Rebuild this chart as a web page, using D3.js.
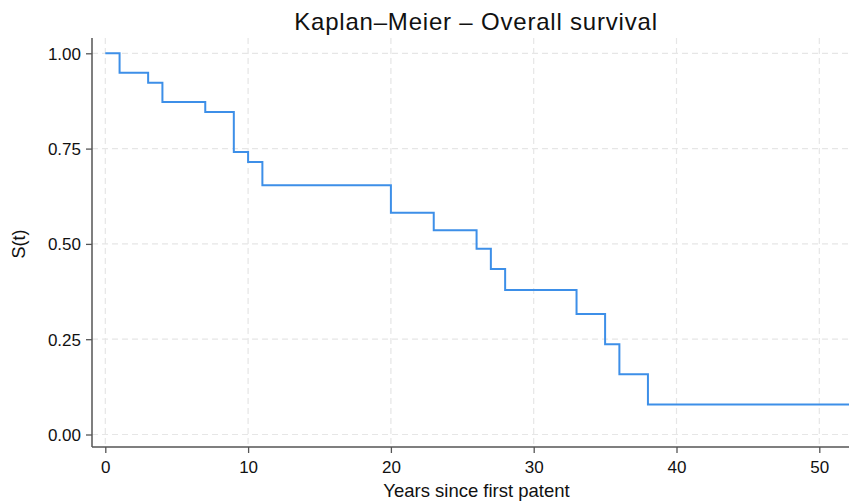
<!DOCTYPE html>
<html>
<head>
<meta charset="utf-8">
<script src="https://cdn.jsdelivr.net/npm/d3@7"></script>
<style>
  html, body { margin: 0; padding: 0; background: #fff; }
  svg { display: block; font-family: "Liberation Sans", Arial, Helvetica, sans-serif; }
</style>
</head>
<body>
<svg id="chart" width="849" height="503"></svg>
<script>
// Kaplan–Meier step data (time in years, survival probability)
const times    = [0, 1, 3, 4, 7, 9, 10, 11, 20, 23, 26, 27, 28, 33, 35, 36, 38, 52.1];
const survival = [1.00, 0.949, 0.923, 0.872, 0.846, 0.741, 0.715, 0.654, 0.582, 0.536, 0.487, 0.434, 0.379, 0.316, 0.237, 0.158, 0.079, 0.079];
const xTicks = [0, 10, 20, 30, 40, 50];
const yTicks = [0, 0.25, 0.5, 0.75, 1.0];
const titleText = "Kaplan–Meier – Overall survival";
const xLabel = "Years since first patent";
const yLabel = "S(t)";

const svg = d3.select("#chart");
const plot = { left: 92, right: 849, top: 38, bottom: 447 };

const x = d3.scaleLinear().domain([0, 50]).range([105.3, 819.3]);
const y = d3.scaleLinear().domain([0, 1]).range([434.5, 53.3]);

svg.append("defs").append("clipPath").attr("id", "clip")
  .append("rect")
  .attr("x", plot.left).attr("y", plot.top)
  .attr("width", plot.right - plot.left).attr("height", plot.bottom - plot.top);

// Grid
const grid = svg.append("g").attr("stroke", "#e6e6e6").attr("stroke-width", 1.2)
  .attr("stroke-dasharray", "6,4");
grid.selectAll("line.h").data(yTicks).join("line").attr("class", "h")
  .attr("x1", plot.left).attr("x2", plot.right)
  .attr("y1", d => y(d)).attr("y2", d => y(d));
grid.selectAll("line.v").data(xTicks).join("line").attr("class", "v")
  .attr("x1", d => x(d)).attr("x2", d => x(d))
  .attr("y1", plot.top).attr("y2", plot.bottom);

// Step line
const pts = times.map((t, i) => [t, survival[i]]);
const line = d3.line().x(d => x(d[0])).y(d => y(d[1])).curve(d3.curveStepAfter);
svg.append("path")
  .datum(pts)
  .attr("clip-path", "url(#clip)")
  .attr("fill", "none")
  .attr("stroke", "#3d8fe8")
  .attr("stroke-width", 2)
  .attr("d", line);

// Axes
const xAxis = svg.append("g").attr("transform", `translate(0,${plot.bottom})`)
  .call(d3.axisBottom(x).tickValues(xTicks).tickFormat(d3.format("d")).tickSize(6).tickSizeOuter(0));
const yAxis = svg.append("g").attr("transform", `translate(${plot.left},0)`)
  .call(d3.axisLeft(y).tickValues(yTicks).tickFormat(d3.format(".2f")).tickSize(6).tickSizeOuter(0));

[xAxis, yAxis].forEach(a => {
  a.select(".domain").remove();
  a.selectAll(".tick line").attr("stroke", "#555").attr("stroke-width", 1.3);
  a.selectAll(".tick text").attr("fill", "#111").style("font-size", "17px")
    .style("font-family", "'Liberation Sans', Arial, sans-serif");
});
xAxis.selectAll(".tick text").attr("dy", null).attr("y", 25.5);
yAxis.selectAll(".tick text").attr("x", -11).attr("dy", "0.35em");

// Axis lines
svg.append("line").attr("x1", plot.left).attr("x2", plot.left)
  .attr("y1", plot.top).attr("y2", plot.bottom)
  .attr("stroke", "#555").attr("stroke-width", 1.5);
svg.append("line").attr("x1", plot.left).attr("x2", plot.right)
  .attr("y1", plot.bottom).attr("y2", plot.bottom)
  .attr("stroke", "#555").attr("stroke-width", 1.5);

// Titles
svg.append("text").attr("x", 476).attr("y", 30).attr("text-anchor", "middle")
  .style("font-size", "24px").style("letter-spacing", "0.8px")
  .attr("fill", "#111").text(titleText);
svg.append("text").attr("x", 476.5).attr("y", 497).attr("text-anchor", "middle")
  .style("font-size", "18.5px").attr("fill", "#111").text(xLabel);
svg.append("text").attr("transform", "translate(25,244) rotate(-90)")
  .attr("text-anchor", "middle")
  .style("font-size", "18px").attr("fill", "#111").text(yLabel);
</script>
</body>
</html>
